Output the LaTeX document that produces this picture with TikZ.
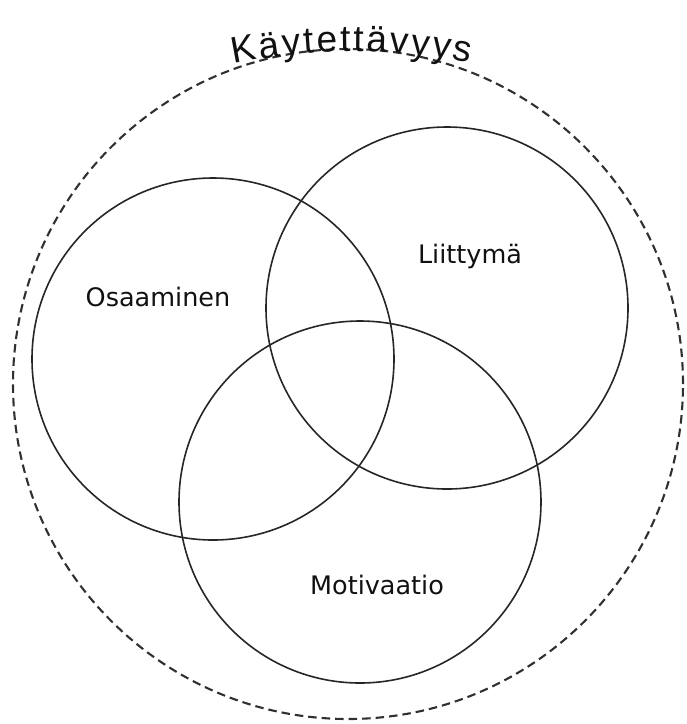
\documentclass[tikz,border=0pt]{standalone}
\usepackage{fontspec}
\setmainfont{DejaVu Sans}
\newfontfamily\titlefont{Liberation Sans}
\usetikzlibrary{decorations.text}
\definecolor{ringcol}{HTML}{262626}
\definecolor{dashcol}{HTML}{303030}
\definecolor{txtcol}{HTML}{111111}
\tikzset{
  ring/.style={circle, draw=ringcol, line width=1.6pt, inner sep=0pt, minimum size=362pt},
  outerring/.style={circle, draw=dashcol, line width=2.1pt, dash pattern=on 8.5pt off 5pt, inner sep=0pt, minimum size=670pt},
  lbl/.style={anchor=base, text=txtcol, font=\fontsize{25.5}{30}\selectfont, inner sep=0pt},
}
\begin{document}
\begin{tikzpicture}[x=1pt,y=-1pt]
\useasboundingbox (0,0) rectangle (687,724);
\node[outerring] (outer) at (348,384) {};
\node[ring] (osa) at (213,359) {};
\node[ring] (lii) at (447,308) {};
\node[ring] (mot) at (360,502) {};
\node[lbl] (osat) at (158,306) {Osaaminen};
\node[lbl] (liit) at (470,263) {Liittymä};
\node[lbl] (mott) at (377,594) {Motivaatio};
\coordinate (ta) at (234,64);
\coordinate (tb) at (470,63);
\path[decorate, decoration={text along path, text align={fit to path},
  text={|\titlefont\fontsize{37}{42}\selectfont\color{txtcol}|Käytettävyys}}]
  (ta) .. controls (311,48) and (392,48) .. (tb);
\end{tikzpicture}
\end{document}
